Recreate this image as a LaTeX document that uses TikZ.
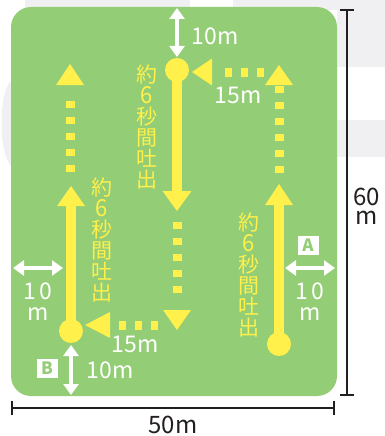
\documentclass[tikz,border=0pt]{standalone}
\usepackage{fontspec}
\setmainfont{Noto Sans CJK JP}
\usetikzlibrary{arrows.meta}
\definecolor{grn}{HTML}{93CD76}
\definecolor{ylw}{HTML}{FFF04B}
\definecolor{bgg}{HTML}{F0F0F3}
\definecolor{ink}{HTML}{231F20}
\tikzset{
  yline/.style={draw=ylw, line width=10pt},
  ydash/.style={draw=ylw, line width=9pt, dash pattern=on 7pt off 9pt},
  yhead/.style={fill=ylw},
  ydot/.style={circle, fill=ylw, minimum size=24pt, inner sep=0},
  warrow/.style={draw=white, line width=4pt, {Triangle[length=11pt,width=15pt]}-{Triangle[length=11pt,width=15pt]}},
  wlab/.style={text=white, font=\fontsize{23}{23}\selectfont, inner sep=0},
  jv/.style={text=ylw, align=center, font=\fontsize{21}{21}\selectfont, inner sep=0},
  lbox/.style={fill=white, text=grn, font=\fontsize{17}{17}\selectfont\bfseries, minimum width=21pt, minimum height=19pt, inner sep=0},
  dim/.style={draw=ink, line width=1.2pt},
  dlab/.style={text=ink, font=\fontsize{24}{20}\selectfont, inner sep=0},
}
\newcommand{\six}{\scalebox{1.05}[1.12]{6}}
\begin{document}
\begin{tikzpicture}[x=1pt, y=-1pt]
\useasboundingbox (0,0) rectangle (385,436);
% faint background shapes
\fill[bgg] (25,0) rectangle (190,10);
\fill[bgg] (233,0) rectangle (385,10);
\fill[bgg] (337,0) rectangle (385,67);
\fill[bgg] (337,120) rectangle (385,157);
\fill[bgg] (12,80) .. controls (-2,90) and (-2,155) .. (12,167) -- cycle;
% field
\fill[grn, rounded corners=20pt] (11,7) rectangle (337,396);
% yellow dots
\node[ydot] (c1) at (177,70) {};
\node[ydot] (c2) at (71,331) {};
\node[ydot] (c3) at (279,344) {};
% solid yellow strokes and heads
\coordinate (m1) at (177,193);
\coordinate (l1) at (71,205);
\coordinate (r1) at (279,204);
\draw[yline] (c1.center) -- (m1);
\fill[yhead] (177,211) -- (162.5,191) -- (191.5,191) -- cycle;
\draw[yline] (c2.center) -- (l1);
\fill[yhead] (71,186) -- (57,206) -- (85,206) -- cycle;
\draw[yline] (c3.center) -- (r1);
\fill[yhead] (279,184) -- (265,205) -- (293,205) -- cycle;
% dotted yellow strokes and heads
\coordinate (ld1) at (70,172); \coordinate (ld2) at (70,100);
\draw[ydash] (ld1) -- (ld2);
\fill[yhead] (70,64) -- (56,85) -- (84,85) -- cycle;
\coordinate (rd1) at (279,173); \coordinate (rd2) at (279,86);
\draw[ydash] (rd1) -- (rd2);
\fill[yhead] (279,65) -- (265,85) -- (293,85) -- cycle;
\coordinate (md1) at (177,222); \coordinate (md2) at (177,294);
\draw[ydash] (md1) -- (md2);
\fill[yhead] (177,330) -- (163,310) -- (191,310) -- cycle;
\coordinate (td1) at (264,72); \coordinate (td2) at (224,72);
\draw[ydash] (td1) -- (td2);
\fill[yhead] (192,72) -- (212,58.5) -- (212,85.5) -- cycle;
\coordinate (bd1) at (158,325); \coordinate (bd2) at (117,325);
\draw[ydash] (bd1) -- (bd2);
\fill[yhead] (85,325) -- (110,312) -- (110,338) -- cycle;
% white double arrows
\coordinate (wt1) at (177,8);  \coordinate (wt2) at (177,57);
\draw[warrow] (wt1) -- (wt2);
\coordinate (wl1) at (13,268); \coordinate (wl2) at (63,268);
\draw[warrow] (wl1) -- (wl2);
\coordinate (wr1) at (285,268); \coordinate (wr2) at (335,268);
\draw[warrow] (wr1) -- (wr2);
\coordinate (wb1) at (71,345); \coordinate (wb2) at (71,395);
\draw[warrow] (wb1) -- (wb2);
% white labels
\node[wlab] (t10) at (215,36) {10m};
\node[wlab] (t15) at (238,95) {15m};
\node[wlab] (b15) at (135,344) {15m};
\node[wlab] (b10) at (110,370) {10m};
\node[wlab] (l10) at (38,291) {1\,0};
\node[wlab] (l10m) at (38,314) {m};
\node[wlab] (r10) at (310,291) {1\,0};
\node[wlab] (r10m) at (310,314) {m};
\node[lbox] (boxA) at (308,245) {A};
\node[lbox] (boxB) at (47,368) {B};
% vertical Japanese labels
\node[jv] (v1) at (147,127) {約\\\six\\秒\\間\\吐\\出};
\node[jv] (v2) at (102,240) {約\\\six\\秒\\間\\吐\\出};
\node[jv] (v3) at (249,275) {約\\\six\\秒\\間\\吐\\出};
% dimensions
\coordinate (h1) at (12,408); \coordinate (h2) at (334,408);
\draw[dim] (h1) -- (h2);
\draw[dim] (12,401) -- (12,415);
\draw[dim] (334,401) -- (334,415);
\node[dlab] (w50) at (173,425) {50m};
\coordinate (v1t) at (347,10); \coordinate (v1b) at (347,395);
\draw[dim] (v1t) -- (v1b);
\draw[dim] (340,10) -- (354,10);
\draw[dim] (340,395) -- (354,395);
\node[dlab, align=center, anchor=west, font=\fontsize{24}{19}\selectfont] (h60) at (353,206) {60\\m};
\end{tikzpicture}
\end{document}
